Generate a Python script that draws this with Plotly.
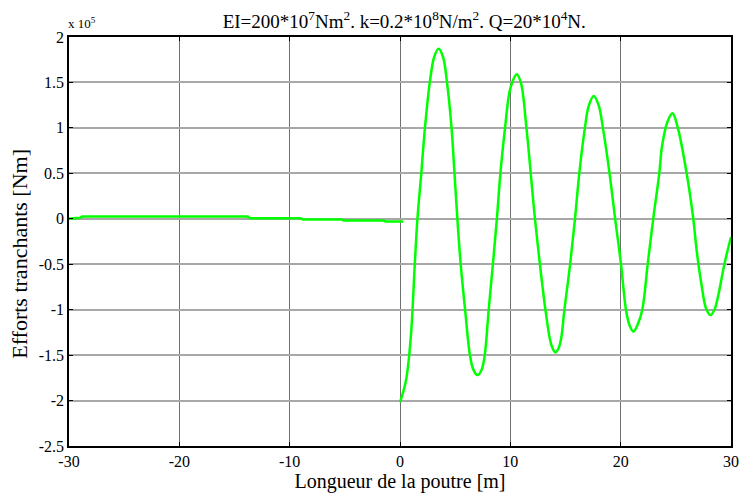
import plotly.graph_objects as go

# Left part (x < 0), values in units of 1e5
x_left = [-30, -29.0, -28.8, -13.8, -13.6, -9.0, -8.8, -5.3, -5.1, -1.5, -1.3, 0.3]
y_left = [0.0, 0.01, 0.025, 0.025, 0.007, 0.007, -0.008, -0.008, -0.02, -0.02, -0.03, -0.03]

# Right part (x >= 0), values in units of 1e5
x_right = [0.0, 0.54, 0.98, 1.34, 1.58, 1.93, 2.26, 2.7, 3.1, 3.5, 3.9, 4.26, 4.67, 4.94,
           5.2, 5.5, 5.9, 6.34, 6.65, 7.02, 7.4, 7.68, 8.04, 8.42, 8.78, 9.1, 9.52, 9.9,
           10.2, 10.57, 10.95, 11.46, 11.85, 12.23, 12.68, 13.18, 13.6, 13.85, 14.08,
           14.35, 14.6, 14.9, 15.42, 15.86, 16.25, 16.76, 17.1, 17.56, 18.0, 18.39,
           18.99, 19.5, 20.03, 20.48, 20.8, 21.16, 21.55, 21.96, 22.45, 22.95, 23.5,
           23.75, 24.25, 24.7, 25.18, 25.98, 26.58, 26.9, 27.32, 27.75, 28.15, 28.5,
           28.87, 29.4, 30.0]
y_right = [-2.02, -1.78, -1.30, -0.5, 0.0, 0.5, 1.0, 1.5, 1.78, 1.87, 1.78, 1.5, 1.0, 0.5,
           0.0, -0.5, -1.0, -1.5, -1.66, -1.72, -1.66, -1.5, -1.0, -0.5, 0.0, 0.5, 1.0, 1.38,
           1.51, 1.59, 1.5, 1.0, 0.5, 0.0, -0.5, -1.0, -1.33, -1.43, -1.47,
           -1.43, -1.32, -1.0, -0.5, 0.0, 0.5, 1.0, 1.24, 1.35, 1.25, 1.0,
           0.5, 0.0, -0.5, -1.0, -1.17, -1.24, -1.16, -1.0, -0.5, 0.0, 0.5,
           0.8, 1.07, 1.16, 1.0, 0.5, 0.0, -0.36, -0.72, -0.99, -1.06, -1.0,
           -0.83, -0.5, -0.2]

x_ticks = [-30, -20, -10, 0, 10, 20, 30]
x_tick_labels = ["-30", "-20", "-10", "0", "10", "20", "30"]
y_ticks = [2, 1.5, 1, 0.5, 0, -0.5, -1, -1.5, -2, -2.5]
y_tick_labels = ["2", "1.5", "1", "0.5", "0", "-0.5", "-1", "-1.5", "-2", "-2.5"]

title_text = ("EI=200*10<sup>7</sup>Nm<sup>2</sup>. k=0.2*10<sup>8</sup>N/m<sup>2</sup>. "
              "Q=20*10<sup>4</sup>N.")
y_title_text = "Efforts tranchants [Nm]"

font_family = "Liberation Serif, Times New Roman, serif"
green = "#00FF00"

fig = go.Figure()
fig.add_trace(go.Scatter(x=x_left, y=y_left, mode="lines",
                         line=dict(color=green, width=2.5), showlegend=False))
fig.add_trace(go.Scatter(x=x_right, y=y_right, mode="lines",
                         line=dict(color=green, width=2.5, shape="spline", smoothing=1.0),
                         showlegend=False))

fig.update_layout(
    width=750, height=497,
    margin=dict(l=69, r=11, t=37, b=47),
    paper_bgcolor="white", plot_bgcolor="white",
    font=dict(family=font_family, color="black", size=16),
    title=dict(text=title_text, x=0.539, xanchor="center", y=0.958, yanchor="middle",
               font=dict(family=font_family, size=19, color="black")),
    xaxis=dict(range=[-30, 30], tickvals=x_ticks, ticktext=x_tick_labels,
               showgrid=True, gridcolor="#707070", gridwidth=1,
               zeroline=False, showline=True, linecolor="black", linewidth=1.5,
               mirror="ticks", ticks="inside", ticklen=4, tickcolor="black",
               tickfont=dict(family=font_family, size=16, color="black"),
               title=dict(text="Longueur de la poutre [m]", standoff=2,
                          font=dict(family=font_family, size=20))),
    yaxis=dict(range=[-2.5, 2], tickvals=y_ticks, ticktext=y_tick_labels,
               showgrid=True, gridcolor="#a8a8a8", gridwidth=1.5,
               zeroline=False, showline=True, linecolor="black", linewidth=1.5,
               mirror="ticks", ticks="inside", ticklen=4, tickcolor="black",
               tickfont=dict(family=font_family, size=16, color="black")),
    annotations=[
        dict(text="x 10<sup>5</sup>", xref="paper", yref="paper",
             x=0.0, y=1.0, xanchor="left", yanchor="bottom", yshift=4, xshift=-3,
             showarrow=False, font=dict(family=font_family, size=13)),
        dict(text=y_title_text, xref="paper", yref="paper", x=0.0, y=0.47,
             xanchor="center", yanchor="middle", xshift=-49, textangle=-90,
             showarrow=False, font=dict(family=font_family, size=22)),
    ],
)

fig.write_html("out.html")
